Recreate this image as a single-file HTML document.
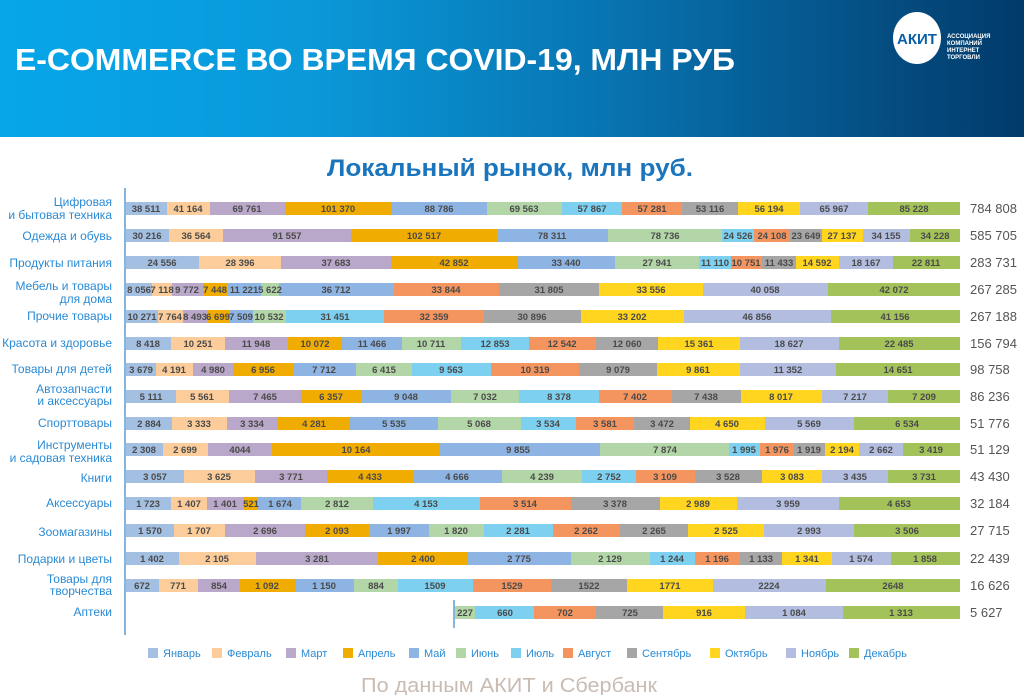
<!DOCTYPE html>
<html><head><meta charset="utf-8"><style>
html,body{margin:0;padding:0;background:#fff;}
svg{display:block;font-family:"Liberation Sans","DejaVu Sans",sans-serif;}
.v{font-size:9.5px;font-weight:bold;fill:#4a4a4a;text-anchor:middle;}
.l{font-size:12px;fill:#2a8ad4;text-anchor:end;}
.t{font-size:13px;fill:#555;}
.g{font-size:11px;fill:#2a8ad4;}
</style></head><body>
<svg width="1024" height="695" viewBox="0 0 1024 695" xmlns="http://www.w3.org/2000/svg">
<defs><linearGradient id="hg" x1="0" y1="0" x2="1" y2="0">
<stop offset="0" stop-color="#06a6e9"/><stop offset="0.3" stop-color="#0a99da"/><stop offset="0.6" stop-color="#0873b0"/><stop offset="1" stop-color="#023a6a"/></linearGradient></defs>
<rect x="0" y="0" width="1024" height="137" fill="url(#hg)"/>
<text x="15" y="70" font-size="31" font-weight="bold" fill="#fff" textLength="720" lengthAdjust="spacingAndGlyphs">E-COMMERCE ВО ВРЕМЯ COVID-19, МЛН РУБ</text>
<ellipse cx="917" cy="38" rx="24" ry="26" fill="#fff"/>
<text x="917" y="44" font-size="15" font-weight="bold" fill="#0b5fa5" text-anchor="middle">АКИТ</text>
<g font-size="6" font-weight="bold" fill="#fff"><text x="947" y="38">АССОЦИАЦИЯ</text><text x="947" y="45">КОМПАНИЙ</text><text x="947" y="52">ИНТЕРНЕТ</text><text x="947" y="59">ТОРГОВЛИ</text></g>
<text x="510" y="176" font-size="24" font-weight="bold" fill="#1b75bc" text-anchor="middle" textLength="366" lengthAdjust="spacingAndGlyphs">Локальный рынок, млн руб.</text>
<line x1="125" y1="188" x2="125" y2="635" stroke="#5b9bd5" stroke-width="1.5"/>
<line x1="454" y1="600" x2="454" y2="628" stroke="#5b9bd5" stroke-width="1.5"/>

<!-- labels -->
<text class="l" x="112" y="206">Цифровая</text><text class="l" x="112" y="219">и бытовая техника</text>
<text class="l" x="112" y="240">Одежда и обувь</text>
<text class="l" x="112" y="267">Продукты питания</text>
<text class="l" x="112" y="290">Мебель и товары</text><text class="l" x="112" y="303">для дома</text>
<text class="l" x="112" y="320">Прочие товары</text>
<text class="l" x="112" y="347">Красота и здоровье</text>
<text class="l" x="112" y="373">Товары для детей</text>
<text class="l" x="112" y="393">Автозапчасти</text><text class="l" x="112" y="405">и аксессуары</text>
<text class="l" x="112" y="427">Спорттовары</text>
<text class="l" x="112" y="449">Инструменты</text><text class="l" x="112" y="462">и садовая техника</text>
<text class="l" x="112" y="482">Книги</text>
<text class="l" x="112" y="507">Аксессуары</text>
<text class="l" x="112" y="536">Зоомагазины</text>
<text class="l" x="112" y="563">Подарки и цветы</text>
<text class="l" x="112" y="583">Товары для</text><text class="l" x="112" y="595">творчества</text>
<text class="l" x="112" y="616">Аптеки</text>

<!-- R1 -->
<g transform="translate(0,202)">
<rect x="126" width="41" height="13" fill="#a3bfe2"/><rect x="167" width="43" height="13" fill="#fccc9a"/><rect x="210" width="75" height="13" fill="#b9a8c9"/><rect x="285" width="107" height="13" fill="#f0ac00"/><rect x="392" width="95" height="13" fill="#8db4e2"/><rect x="487" width="75" height="13" fill="#b3d6a8"/><rect x="562" width="60" height="13" fill="#7dd0f0"/><rect x="622" width="60" height="13" fill="#f4955f"/><rect x="682" width="56" height="13" fill="#a6a6a6"/><rect x="738" width="62" height="13" fill="#ffd51f"/><rect x="800" width="68" height="13" fill="#b3bde0"/><rect x="868" width="92" height="13" fill="#a3c35a"/>
<text class="v" y="10" x="146">38 511</text><text class="v" y="10" x="188">41 164</text><text class="v" y="10" x="247">69 761</text><text class="v" y="10" x="338">101 370</text><text class="v" y="10" x="439">88 786</text><text class="v" y="10" x="524">69 563</text><text class="v" y="10" x="592">57 867</text><text class="v" y="10" x="652">57 281</text><text class="v" y="10" x="710">53 116</text><text class="v" y="10" x="769">56 194</text><text class="v" y="10" x="834">65 967</text><text class="v" y="10" x="914">85 228</text>
<text class="t" x="970" y="11">784 808</text></g>
<!-- R2 -->
<g transform="translate(0,229)">
<rect x="126" width="43" height="13" fill="#a3bfe2"/><rect x="169" width="54" height="13" fill="#fccc9a"/><rect x="223" width="128" height="13" fill="#b9a8c9"/><rect x="351" width="146" height="13" fill="#f0ac00"/><rect x="497" width="111" height="13" fill="#8db4e2"/><rect x="608" width="114" height="13" fill="#b3d6a8"/><rect x="722" width="32" height="13" fill="#7dd0f0"/><rect x="754" width="36" height="13" fill="#f4955f"/><rect x="790" width="32" height="13" fill="#a6a6a6"/><rect x="822" width="41" height="13" fill="#ffd51f"/><rect x="863" width="47" height="13" fill="#b3bde0"/><rect x="910" width="50" height="13" fill="#a3c35a"/>
<text class="v" y="10" x="147">30 216</text><text class="v" y="10" x="196">36 564</text><text class="v" y="10" x="287">91 557</text><text class="v" y="10" x="424">102 517</text><text class="v" y="10" x="552">78 311</text><text class="v" y="10" x="665">78 736</text><text class="v" y="10" x="738">24 526</text><text class="v" y="10" x="772">24 108</text><text class="v" y="10" x="806">23 649</text><text class="v" y="10" x="842">27 137</text><text class="v" y="10" x="886">34 155</text><text class="v" y="10" x="935">34 228</text>
<text class="t" x="970" y="11">585 705</text></g>
<!-- R3 -->
<g transform="translate(0,256)">
<rect x="126" width="73" height="13" fill="#a3bfe2"/><rect x="199" width="82" height="13" fill="#fccc9a"/><rect x="281" width="110" height="13" fill="#b9a8c9"/><rect x="391" width="127" height="13" fill="#f0ac00"/><rect x="518" width="97" height="13" fill="#8db4e2"/><rect x="615" width="84" height="13" fill="#b3d6a8"/><rect x="699" width="32" height="13" fill="#7dd0f0"/><rect x="731" width="31" height="13" fill="#f4955f"/><rect x="762" width="34" height="13" fill="#a6a6a6"/><rect x="796" width="43" height="13" fill="#ffd51f"/><rect x="839" width="54" height="13" fill="#b3bde0"/><rect x="893" width="67" height="13" fill="#a3c35a"/>
<text class="v" y="10" x="162">24 556</text><text class="v" y="10" x="240">28 396</text><text class="v" y="10" x="336">37 683</text><text class="v" y="10" x="454">42 852</text><text class="v" y="10" x="566">33 440</text><text class="v" y="10" x="657">27 941</text><text class="v" y="10" x="715">11 110</text><text class="v" y="10" x="746">10 751</text><text class="v" y="10" x="779">11 433</text><text class="v" y="10" x="817">14 592</text><text class="v" y="10" x="866">18 167</text><text class="v" y="10" x="926">22 811</text>
<text class="t" x="970" y="11">283 731</text></g>
<!-- R4 -->
<g transform="translate(0,283)">
<rect x="126" width="26" height="13" fill="#a3bfe2"/><rect x="152" width="20" height="13" fill="#fccc9a"/><rect x="172" width="31" height="13" fill="#b9a8c9"/><rect x="203" width="24" height="13" fill="#f0ac00"/><rect x="227" width="34" height="13" fill="#8db4e2"/><rect x="261" width="18" height="13" fill="#b3d6a8"/><rect x="279" width="115" height="13" fill="#8db4e2"/><rect x="394" width="105" height="13" fill="#f4955f"/><rect x="499" width="100" height="13" fill="#a6a6a6"/><rect x="599" width="104" height="13" fill="#ffd51f"/><rect x="703" width="125" height="13" fill="#b3bde0"/><rect x="828" width="132" height="13" fill="#a3c35a"/>
<text class="v" y="10" x="139">8 056</text><text class="v" y="10" x="162">7 118</text><text class="v" y="10" x="187">9 772</text><text class="v" y="10" x="215">7 448</text><text class="v" y="10" x="244">11 221</text><text class="v" y="10" x="270">5 622</text><text class="v" y="10" x="336">36 712</text><text class="v" y="10" x="446">33 844</text><text class="v" y="10" x="549">31 805</text><text class="v" y="10" x="651">33 556</text><text class="v" y="10" x="765">40 058</text><text class="v" y="10" x="894">42 072</text>
<text class="t" x="970" y="11">267 285</text></g>
<!-- R5 -->
<g transform="translate(0,310)">
<rect x="126" width="32" height="13" fill="#a3bfe2"/><rect x="158" width="25" height="13" fill="#fccc9a"/><rect x="183" width="24" height="13" fill="#b9a8c9"/><rect x="207" width="22" height="13" fill="#f0ac00"/><rect x="229" width="24" height="13" fill="#8db4e2"/><rect x="253" width="33" height="13" fill="#b3d6a8"/><rect x="286" width="98" height="13" fill="#7dd0f0"/><rect x="384" width="100" height="13" fill="#f4955f"/><rect x="484" width="97" height="13" fill="#a6a6a6"/><rect x="581" width="103" height="13" fill="#ffd51f"/><rect x="684" width="147" height="13" fill="#b3bde0"/><rect x="831" width="129" height="13" fill="#a3c35a"/>
<text class="v" y="10" x="142">10 271</text><text class="v" y="10" x="170">7 764</text><text class="v" y="10" x="195">8 493</text><text class="v" y="10" x="218">6 699</text><text class="v" y="10" x="241">7 509</text><text class="v" y="10" x="269">10 532</text><text class="v" y="10" x="335">31 451</text><text class="v" y="10" x="434">32 359</text><text class="v" y="10" x="532">30 896</text><text class="v" y="10" x="632">33 202</text><text class="v" y="10" x="757">46 856</text><text class="v" y="10" x="895">41 156</text>
<text class="t" x="970" y="11">267 188</text></g>
<!-- R6 -->
<g transform="translate(0,337)">
<rect x="126" width="45" height="13" fill="#a3bfe2"/><rect x="171" width="54" height="13" fill="#fccc9a"/><rect x="225" width="63" height="13" fill="#b9a8c9"/><rect x="288" width="54" height="13" fill="#f0ac00"/><rect x="342" width="60" height="13" fill="#8db4e2"/><rect x="402" width="59" height="13" fill="#b3d6a8"/><rect x="461" width="68" height="13" fill="#7dd0f0"/><rect x="529" width="67" height="13" fill="#f4955f"/><rect x="596" width="62" height="13" fill="#a6a6a6"/><rect x="658" width="82" height="13" fill="#ffd51f"/><rect x="740" width="99" height="13" fill="#b3bde0"/><rect x="839" width="121" height="13" fill="#a3c35a"/>
<text class="v" y="10" x="148">8 418</text><text class="v" y="10" x="198">10 251</text><text class="v" y="10" x="256">11 948</text><text class="v" y="10" x="315">10 072</text><text class="v" y="10" x="372">11 466</text><text class="v" y="10" x="431">10 711</text><text class="v" y="10" x="495">12 853</text><text class="v" y="10" x="562">12 542</text><text class="v" y="10" x="627">12 060</text><text class="v" y="10" x="699">15 361</text><text class="v" y="10" x="789">18 627</text><text class="v" y="10" x="899">22 485</text>
<text class="t" x="970" y="11">156 794</text></g>
<!-- R7 -->
<g transform="translate(0,363)">
<rect x="126" width="30" height="13" fill="#a3bfe2"/><rect x="156" width="37" height="13" fill="#fccc9a"/><rect x="193" width="40" height="13" fill="#b9a8c9"/><rect x="233" width="60" height="13" fill="#f0ac00"/><rect x="293" width="63" height="13" fill="#8db4e2"/><rect x="356" width="56" height="13" fill="#b3d6a8"/><rect x="412" width="79" height="13" fill="#7dd0f0"/><rect x="491" width="88" height="13" fill="#f4955f"/><rect x="579" width="78" height="13" fill="#a6a6a6"/><rect x="657" width="83" height="13" fill="#ffd51f"/><rect x="740" width="96" height="13" fill="#b3bde0"/><rect x="836" width="124" height="13" fill="#a3c35a"/>
<text class="v" y="10" x="141">3 679</text><text class="v" y="10" x="174">4 191</text><text class="v" y="10" x="213">4 980</text><text class="v" y="10" x="263">6 956</text><text class="v" y="10" x="324">7 712</text><text class="v" y="10" x="384">6 415</text><text class="v" y="10" x="451">9 563</text><text class="v" y="10" x="535">10 319</text><text class="v" y="10" x="618">9 079</text><text class="v" y="10" x="698">9 861</text><text class="v" y="10" x="788">11 352</text><text class="v" y="10" x="898">14 651</text>
<text class="t" x="970" y="11">98 758</text></g>
<!-- R8 -->
<g transform="translate(0,390)">
<rect x="126" width="50" height="13" fill="#a3bfe2"/><rect x="176" width="53" height="13" fill="#fccc9a"/><rect x="229" width="72" height="13" fill="#b9a8c9"/><rect x="301" width="61" height="13" fill="#f0ac00"/><rect x="362" width="89" height="13" fill="#8db4e2"/><rect x="451" width="68" height="13" fill="#b3d6a8"/><rect x="519" width="80" height="13" fill="#7dd0f0"/><rect x="599" width="73" height="13" fill="#f4955f"/><rect x="672" width="69" height="13" fill="#a6a6a6"/><rect x="741" width="81" height="13" fill="#ffd51f"/><rect x="822" width="66" height="13" fill="#b3bde0"/><rect x="888" width="72" height="13" fill="#a3c35a"/>
<text class="v" y="10" x="151">5 111</text><text class="v" y="10" x="202">5 561</text><text class="v" y="10" x="265">7 465</text><text class="v" y="10" x="331">6 357</text><text class="v" y="10" x="406">9 048</text><text class="v" y="10" x="485">7 032</text><text class="v" y="10" x="559">8 378</text><text class="v" y="10" x="635">7 402</text><text class="v" y="10" x="706">7 438</text><text class="v" y="10" x="781">8 017</text><text class="v" y="10" x="855">7 217</text><text class="v" y="10" x="924">7 209</text>
<text class="t" x="970" y="11">86 236</text></g>
<!-- R9 -->
<g transform="translate(0,417)">
<rect x="126" width="46" height="13" fill="#a3bfe2"/><rect x="172" width="55" height="13" fill="#fccc9a"/><rect x="227" width="51" height="13" fill="#b9a8c9"/><rect x="278" width="72" height="13" fill="#f0ac00"/><rect x="350" width="88" height="13" fill="#8db4e2"/><rect x="438" width="83" height="13" fill="#b3d6a8"/><rect x="521" width="55" height="13" fill="#7dd0f0"/><rect x="576" width="58" height="13" fill="#f4955f"/><rect x="634" width="56" height="13" fill="#a6a6a6"/><rect x="690" width="75" height="13" fill="#ffd51f"/><rect x="765" width="89" height="13" fill="#b3bde0"/><rect x="854" width="106" height="13" fill="#a3c35a"/>
<text class="v" y="10" x="149">2 884</text><text class="v" y="10" x="199">3 333</text><text class="v" y="10" x="252">3 334</text><text class="v" y="10" x="314">4 281</text><text class="v" y="10" x="394">5 535</text><text class="v" y="10" x="479">5 068</text><text class="v" y="10" x="548">3 534</text><text class="v" y="10" x="605">3 581</text><text class="v" y="10" x="662">3 472</text><text class="v" y="10" x="727">4 650</text><text class="v" y="10" x="809">5 569</text><text class="v" y="10" x="907">6 534</text>
<text class="t" x="970" y="11">51 776</text></g>
<!-- R10 -->
<g transform="translate(0,443)">
<rect x="126" width="37" height="13" fill="#a3bfe2"/><rect x="163" width="45" height="13" fill="#fccc9a"/><rect x="208" width="64" height="13" fill="#b9a8c9"/><rect x="272" width="168" height="13" fill="#f0ac00"/><rect x="440" width="160" height="13" fill="#8db4e2"/><rect x="600" width="129" height="13" fill="#b3d6a8"/><rect x="729" width="31" height="13" fill="#7dd0f0"/><rect x="760" width="34" height="13" fill="#f4955f"/><rect x="794" width="31" height="13" fill="#a6a6a6"/><rect x="825" width="34" height="13" fill="#ffd51f"/><rect x="859" width="44" height="13" fill="#b3bde0"/><rect x="903" width="57" height="13" fill="#a3c35a"/>
<text class="v" y="10" x="144">2 308</text><text class="v" y="10" x="185">2 699</text><text class="v" y="10" x="240">4044</text><text class="v" y="10" x="356">10 164</text><text class="v" y="10" x="518">9 855</text><text class="v" y="10" x="665">7 874</text><text class="v" y="10" x="744">1 995</text><text class="v" y="10" x="777">1 976</text><text class="v" y="10" x="809">1 919</text><text class="v" y="10" x="842">2 194</text><text class="v" y="10" x="881">2 662</text><text class="v" y="10" x="931">3 419</text>
<text class="t" x="970" y="11">51 129</text></g>
<!-- R11 -->
<g transform="translate(0,470)">
<rect x="126" width="58" height="13" fill="#a3bfe2"/><rect x="184" width="71" height="13" fill="#fccc9a"/><rect x="255" width="72" height="13" fill="#b9a8c9"/><rect x="327" width="86" height="13" fill="#f0ac00"/><rect x="413" width="89" height="13" fill="#8db4e2"/><rect x="502" width="80" height="13" fill="#b3d6a8"/><rect x="582" width="54" height="13" fill="#7dd0f0"/><rect x="636" width="59" height="13" fill="#f4955f"/><rect x="695" width="67" height="13" fill="#a6a6a6"/><rect x="762" width="60" height="13" fill="#ffd51f"/><rect x="822" width="66" height="13" fill="#b3bde0"/><rect x="888" width="72" height="13" fill="#a3c35a"/>
<text class="v" y="10" x="155">3 057</text><text class="v" y="10" x="219">3 625</text><text class="v" y="10" x="291">3 771</text><text class="v" y="10" x="370">4 433</text><text class="v" y="10" x="457">4 666</text><text class="v" y="10" x="542">4 239</text><text class="v" y="10" x="609">2 752</text><text class="v" y="10" x="665">3 109</text><text class="v" y="10" x="728">3 528</text><text class="v" y="10" x="792">3 083</text><text class="v" y="10" x="855">3 435</text><text class="v" y="10" x="924">3 731</text>
<text class="t" x="970" y="11">43 430</text></g>
<!-- R12 -->
<g transform="translate(0,497)">
<rect x="126" width="45" height="13" fill="#a3bfe2"/><rect x="171" width="36" height="13" fill="#fccc9a"/><rect x="207" width="37" height="13" fill="#b9a8c9"/><rect x="244" width="14" height="13" fill="#f0ac00"/><rect x="258" width="43" height="13" fill="#8db4e2"/><rect x="301" width="72" height="13" fill="#b3d6a8"/><rect x="373" width="107" height="13" fill="#7dd0f0"/><rect x="480" width="91" height="13" fill="#f4955f"/><rect x="571" width="89" height="13" fill="#a6a6a6"/><rect x="660" width="77" height="13" fill="#ffd51f"/><rect x="737" width="102" height="13" fill="#b3bde0"/><rect x="839" width="121" height="13" fill="#a3c35a"/>
<text class="v" y="10" x="148">1 723</text><text class="v" y="10" x="189">1 407</text><text class="v" y="10" x="225">1 401</text><text class="v" y="10" x="251">521</text><text class="v" y="10" x="280">1 674</text><text class="v" y="10" x="337">2 812</text><text class="v" y="10" x="426">4 153</text><text class="v" y="10" x="525">3 514</text><text class="v" y="10" x="615">3 378</text><text class="v" y="10" x="698">2 989</text><text class="v" y="10" x="788">3 959</text><text class="v" y="10" x="899">4 653</text>
<text class="t" x="970" y="11">32 184</text></g>
<!-- R13 -->
<g transform="translate(0,524)">
<rect x="126" width="48" height="13" fill="#a3bfe2"/><rect x="174" width="51" height="13" fill="#fccc9a"/><rect x="225" width="80" height="13" fill="#b9a8c9"/><rect x="305" width="64" height="13" fill="#f0ac00"/><rect x="369" width="60" height="13" fill="#8db4e2"/><rect x="429" width="55" height="13" fill="#b3d6a8"/><rect x="484" width="69" height="13" fill="#7dd0f0"/><rect x="553" width="67" height="13" fill="#f4955f"/><rect x="620" width="68" height="13" fill="#a6a6a6"/><rect x="688" width="76" height="13" fill="#ffd51f"/><rect x="764" width="90" height="13" fill="#b3bde0"/><rect x="854" width="106" height="13" fill="#a3c35a"/>
<text class="v" y="10" x="150">1 570</text><text class="v" y="10" x="199">1 707</text><text class="v" y="10" x="265">2 696</text><text class="v" y="10" x="337">2 093</text><text class="v" y="10" x="399">1 997</text><text class="v" y="10" x="456">1 820</text><text class="v" y="10" x="518">2 281</text><text class="v" y="10" x="586">2 262</text><text class="v" y="10" x="654">2 265</text><text class="v" y="10" x="726">2 525</text><text class="v" y="10" x="809">2 993</text><text class="v" y="10" x="907">3 506</text>
<text class="t" x="970" y="11">27 715</text></g>
<!-- R14 -->
<g transform="translate(0,552)">
<rect x="126" width="53" height="13" fill="#a3bfe2"/><rect x="179" width="77" height="13" fill="#fccc9a"/><rect x="256" width="122" height="13" fill="#b9a8c9"/><rect x="378" width="90" height="13" fill="#f0ac00"/><rect x="468" width="103" height="13" fill="#8db4e2"/><rect x="571" width="79" height="13" fill="#b3d6a8"/><rect x="650" width="45" height="13" fill="#7dd0f0"/><rect x="695" width="45" height="13" fill="#f4955f"/><rect x="740" width="42" height="13" fill="#a6a6a6"/><rect x="782" width="50" height="13" fill="#ffd51f"/><rect x="832" width="59" height="13" fill="#b3bde0"/><rect x="891" width="69" height="13" fill="#a3c35a"/>
<text class="v" y="10" x="152">1 402</text><text class="v" y="10" x="217">2 105</text><text class="v" y="10" x="317">3 281</text><text class="v" y="10" x="423">2 400</text><text class="v" y="10" x="519">2 775</text><text class="v" y="10" x="610">2 129</text><text class="v" y="10" x="672">1 244</text><text class="v" y="10" x="717">1 196</text><text class="v" y="10" x="761">1 133</text><text class="v" y="10" x="807">1 341</text><text class="v" y="10" x="861">1 574</text><text class="v" y="10" x="925">1 858</text>
<text class="t" x="970" y="11">22 439</text></g>
<!-- R15 -->
<g transform="translate(0,579)">
<rect x="126" width="33" height="13" fill="#a3bfe2"/><rect x="159" width="39" height="13" fill="#fccc9a"/><rect x="198" width="42" height="13" fill="#b9a8c9"/><rect x="240" width="55" height="13" fill="#f0ac00"/><rect x="295" width="59" height="13" fill="#8db4e2"/><rect x="354" width="44" height="13" fill="#b3d6a8"/><rect x="398" width="75" height="13" fill="#7dd0f0"/><rect x="473" width="78" height="13" fill="#f4955f"/><rect x="551" width="76" height="13" fill="#a6a6a6"/><rect x="627" width="86" height="13" fill="#ffd51f"/><rect x="713" width="113" height="13" fill="#b3bde0"/><rect x="826" width="134" height="13" fill="#a3c35a"/>
<text class="v" y="10" x="142">672</text><text class="v" y="10" x="178">771</text><text class="v" y="10" x="219">854</text><text class="v" y="10" x="267">1 092</text><text class="v" y="10" x="324">1 150</text><text class="v" y="10" x="376">884</text><text class="v" y="10" x="435">1509</text><text class="v" y="10" x="512">1529</text><text class="v" y="10" x="589">1522</text><text class="v" y="10" x="670">1771</text><text class="v" y="10" x="769">2224</text><text class="v" y="10" x="893">2648</text>
<text class="t" x="970" y="11">16 626</text></g>
<!-- R16 -->
<g transform="translate(0,606)">
<rect x="455" width="20" height="13" fill="#b3d6a8"/><rect x="475" width="59" height="13" fill="#7dd0f0"/><rect x="534" width="62" height="13" fill="#f4955f"/><rect x="596" width="67" height="13" fill="#a6a6a6"/><rect x="663" width="82" height="13" fill="#ffd51f"/><rect x="745" width="98" height="13" fill="#b3bde0"/><rect x="843" width="117" height="13" fill="#a3c35a"/>
<text class="v" y="10" x="465">227</text><text class="v" y="10" x="505">660</text><text class="v" y="10" x="565">702</text><text class="v" y="10" x="630">725</text><text class="v" y="10" x="704">916</text><text class="v" y="10" x="794">1 084</text><text class="v" y="10" x="901">1 313</text>
<text class="t" x="970" y="11">5 627</text></g>

<!-- legend -->
<g transform="translate(0,648)">
<rect x="148" width="10" height="10" fill="#a3bfe2"/><text class="g" x="163" y="9">Январь</text>
<rect x="212" width="10" height="10" fill="#fccc9a"/><text class="g" x="227" y="9">Февраль</text>
<rect x="286" width="10" height="10" fill="#b9a8c9"/><text class="g" x="301" y="9">Март</text>
<rect x="343" width="10" height="10" fill="#f0ac00"/><text class="g" x="358" y="9">Апрель</text>
<rect x="409" width="10" height="10" fill="#8db4e2"/><text class="g" x="424" y="9">Май</text>
<rect x="456" width="10" height="10" fill="#b3d6a8"/><text class="g" x="471" y="9">Июнь</text>
<rect x="511" width="10" height="10" fill="#7dd0f0"/><text class="g" x="526" y="9">Июль</text>
<rect x="563" width="10" height="10" fill="#f4955f"/><text class="g" x="578" y="9">Август</text>
<rect x="627" width="10" height="10" fill="#a6a6a6"/><text class="g" x="642" y="9">Сентябрь</text>
<rect x="710" width="10" height="10" fill="#ffd51f"/><text class="g" x="725" y="9">Октябрь</text>
<rect x="786" width="10" height="10" fill="#b3bde0"/><text class="g" x="801" y="9">Ноябрь</text>
<rect x="849" width="10" height="10" fill="#a3c35a"/><text class="g" x="864" y="9">Декабрь</text>
</g>
<text x="509" y="692" font-size="20" fill="#c9bcb3" text-anchor="middle" textLength="296" lengthAdjust="spacingAndGlyphs">По данным АКИТ и Сбербанк</text>
</svg>
</body></html>
